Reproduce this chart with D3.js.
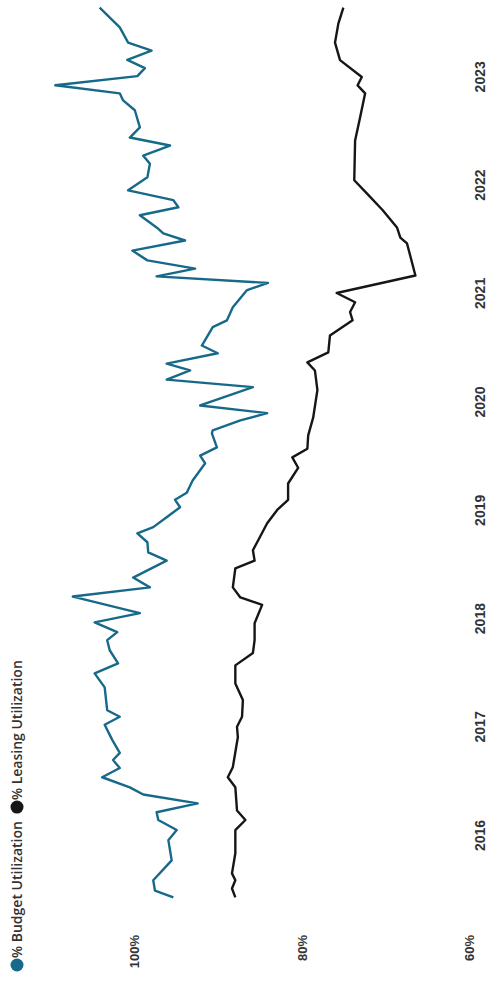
<!DOCTYPE html>
<html>
<head>
<meta charset="utf-8">
<script src="https://cdn.jsdelivr.net/npm/d3@7"></script>
<style>
  html, body { margin: 0; padding: 0; background: #fff; }
  svg { display: block; }
</style>
</head>
<body>
<div id="chart"></div>
<script>
// Monthly utilization readings, Budget vs. Leasing
const budgetDates = ["2015-06-08","2015-07-01","2015-08-05","2015-10-11","2015-12-18","2016-01-21","2016-02-24","2016-03-21","2016-04-20","2016-05-20","2016-06-13","2016-07-17","2016-08-17","2016-09-13","2016-10-07","2016-11-20","2017-01-10","2017-02-06","2017-02-28","2017-05-16","2017-07-02","2017-08-05","2017-09-18","2017-10-22","2017-11-18","2017-12-21","2018-01-21","2018-03-18","2018-04-18","2018-05-21","2018-07-17","2018-08-14","2018-09-17","2018-10-17","2018-11-07","2018-12-10","2019-01-13","2019-02-07","2019-03-03","2019-04-13","2019-06-10","2019-07-06","2019-08-03","2019-09-19","2019-09-29","2019-11-02","2019-11-26","2019-12-22","2020-02-22","2020-03-18","2020-04-18","2020-05-11","2020-06-15","2020-07-11","2020-09-11","2020-10-04","2020-11-17","2021-01-14","2021-02-07","2021-03-01","2021-03-27","2021-04-24","2021-05-27","2021-06-30","2021-07-24","2021-08-13","2021-09-23","2021-10-20","2021-11-13","2021-12-16","2022-01-29","2022-03-16","2022-04-12","2022-05-16","2022-06-12","2022-07-16","2022-09-12","2022-10-15","2022-11-08","2022-12-05","2023-01-05","2023-02-01","2023-03-01","2023-04-01","2023-04-28","2023-06-18","2023-08-24"];
const budgetValues = [95.3,97.5,97.7,95.5,95.9,94.9,97.1,97.3,92.4,98.9,100.5,103.8,101.7,102.5,101.7,102.6,103.5,101.7,103.2,103.5,104.7,101.9,102.9,103.2,102.0,104.7,99.3,107.3,98.1,100.1,96.1,98.3,98.4,99.6,97.7,96.1,94.5,95.1,93.7,93.0,91.5,92.1,90.1,90.7,90.6,87.3,84.1,92.1,85.8,96.1,93.3,96.1,90.0,91.9,90.6,88.9,88.2,86.5,84.0,97.3,92.7,98.4,100.2,93.9,96.5,97.3,99.3,94.7,95.3,100.7,98.4,98.1,98.9,95.7,100.5,99.3,99.9,101.3,101.7,109.4,99.6,98.7,100.8,97.9,100.7,101.7,104.1];

const leasingDates = ["2015-06-08","2015-07-08","2015-08-05","2015-08-28","2015-11-04","2016-01-21","2016-02-24","2016-03-27","2016-06-13","2016-07-17","2016-08-20","2016-11-29","2017-01-03","2017-02-06","2017-04-03","2017-05-29","2017-07-29","2017-09-09","2017-10-22","2017-12-18","2018-02-18","2018-03-15","2018-04-18","2018-06-21","2018-07-17","2018-08-21","2018-11-20","2019-01-04","2019-02-07","2019-04-03","2019-05-26","2019-06-30","2019-07-29","2019-09-12","2019-11-12","2020-02-12","2020-04-18","2020-05-15","2020-06-18","2020-08-14","2020-10-04","2020-11-01","2020-12-04","2021-01-04","2021-03-04","2021-06-20","2021-07-10","2021-08-13","2021-10-10","2021-12-06","2022-01-19","2022-06-02","2022-08-19","2022-11-08","2022-12-05","2023-01-02","2023-02-28","2023-04-28","2023-07-01","2023-08-24"];
const leasingValues = [87.9,88.3,87.9,88.3,87.9,87.9,86.7,87.7,87.9,88.8,88.2,87.6,87.7,87.1,87.0,87.9,87.9,85.8,85.6,85.6,84.7,87.3,88.2,87.9,85.6,85.8,84.1,82.9,81.6,81.6,80.4,81.1,79.3,79.2,78.6,78.1,78.4,79.3,76.8,76.6,73.9,74.2,73.6,75.8,66.4,67.4,68.2,68.6,70.3,72.2,73.7,73.6,73.0,72.4,73.3,72.8,75.4,76.0,75.6,75.0];

const yearTicks = [2016, 2017, 2018, 2019, 2020, 2021, 2022, 2023];
const valueTicks = [60, 80, 100];

const seriesNames = ["% Budget Utilization", "% Leasing Utilization"];
const seriesColors = ["#17698a", "#161616"];

// Page is portrait; the chart itself is laid out landscape and turned a quarter turn.
const pageW = 490, pageH = 981;

const parse = d3.timeParse("%Y-%m-%d");
const budget = budgetDates.map((d, i) => ({ date: parse(d), value: budgetValues[i] }));
const leasing = leasingDates.map((d, i) => ({ date: parse(d), value: leasingValues[i] }));

const x = d3.scaleTime()
  .domain([new Date(2016, 0, 1), new Date(2024, 0, 1)])
  .range([145, 1012]);
const y = d3.scaleLinear()
  .domain([60, 100])
  .range([469, 134]);

const svg = d3.select("#chart").append("svg")
  .attr("width", pageW)
  .attr("height", pageH);

const g = svg.append("g")
  .attr("transform", `translate(0,${pageH}) rotate(-90)`);

// Year axis
const xAxis = d3.axisBottom(x)
  .tickValues(yearTicks.map(yr => new Date(yr, 0, 1)))
  .tickFormat(d3.timeFormat("%Y"))
  .tickSize(0)
  .tickPadding(0);
const xg = g.append("g").attr("transform", "translate(0,480)").call(xAxis);
xg.select(".domain").remove();
xg.selectAll("text")
  .attr("dy", "0.35em")
  .attr("fill", "#333")
  .style("font-family", "'Liberation Sans Narrow', 'Liberation Sans', Arial, sans-serif")
  .style("font-weight", "bold")
  .style("font-size", "14px");

// Value axis
const yAxis = d3.axisLeft(y)
  .tickValues(valueTicks)
  .tickFormat(d => d + "%")
  .tickSize(0)
  .tickPadding(0);
const yg = g.append("g").attr("transform", "translate(46,0)").call(yAxis);
yg.select(".domain").remove();
yg.selectAll("text")
  .attr("dy", "0.35em")
  .attr("fill", "#333")
  .style("font-family", "'Liberation Sans', Arial, sans-serif")
  .style("font-weight", "bold")
  .style("font-size", "13px");

// Lines
const line = d3.line().x(d => x(d.date)).y(d => y(d.value));
g.append("path")
  .datum(leasing)
  .attr("fill", "none")
  .attr("stroke", seriesColors[1])
  .attr("stroke-width", 2.4)
  .attr("stroke-linejoin", "round")
  .attr("d", line);
g.append("path")
  .datum(budget)
  .attr("fill", "none")
  .attr("stroke", seriesColors[0])
  .attr("stroke-width", 2.4)
  .attr("stroke-linejoin", "round")
  .attr("d", line);

// Legend
const legend = g.append("g").attr("transform", "translate(16,17)");
let lx = 0;
seriesNames.forEach((name, i) => {
  const item = legend.append("g").attr("transform", `translate(${lx},0)`);
  item.append("circle").attr("cx", 0).attr("cy", 0).attr("r", 6.5).attr("fill", seriesColors[i]);
  const t = item.append("text")
    .attr("x", 7)
    .attr("dy", "0.35em")
    .attr("fill", "#333")
    .style("font-family", "'Open Sans', 'Liberation Sans', Arial, sans-serif")
    .style("font-weight", "600")
    .style("font-size", "14px")
    .text(name);
  lx += 7 + t.node().getComputedTextLength() + 14;
});
</script>
</body>
</html>
